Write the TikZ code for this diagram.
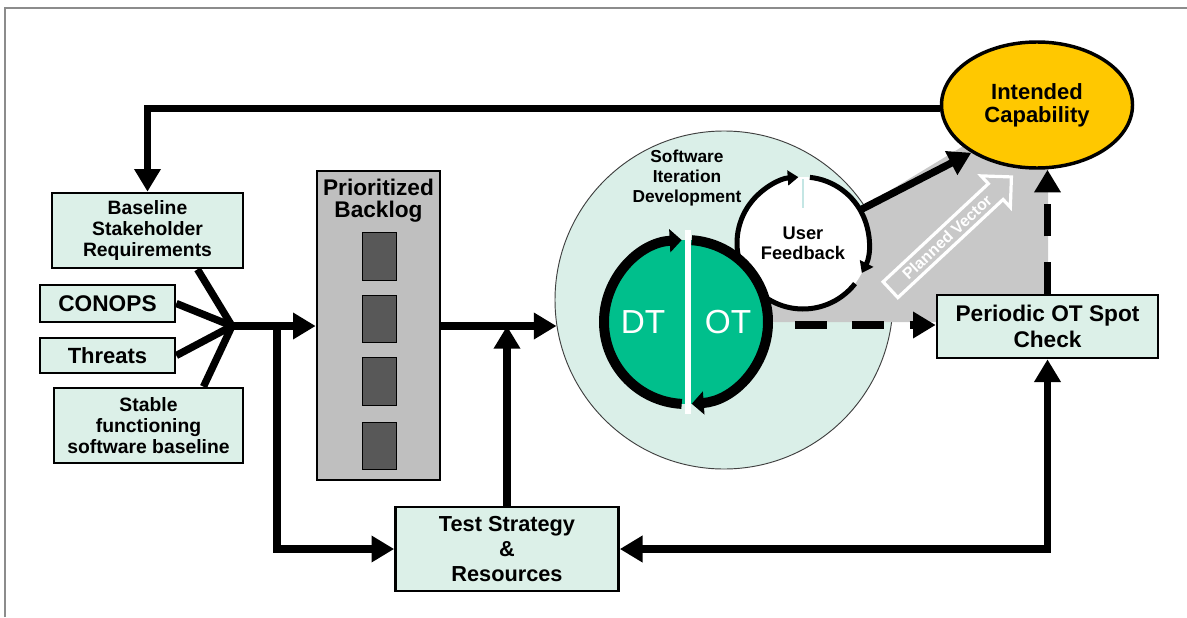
\documentclass[tikz,border=0pt]{standalone}
\usepackage{fontspec}
\setmainfont{Liberation Sans}
\usetikzlibrary{arrows.meta,shapes.geometric,shapes.arrows,calc}
\definecolor{boxfill}{HTML}{DCF0E8}
\definecolor{bigc}{HTML}{DAEFE8}
\definecolor{otgreen}{HTML}{00BF8C}
\definecolor{capyellow}{HTML}{FFC800}
\definecolor{blgray}{HTML}{BFBFBF}
\definecolor{darkrect}{HTML}{585858}
\definecolor{polyg}{HTML}{C8C8C8}
\definecolor{framegray}{HTML}{8C8C8C}
\definecolor{faint}{HTML}{C4E6E4}
\newcommand{\fs}[2]{\fontsize{#1}{#2}\selectfont}
\tikzset{
  greenbox/.style={draw=black, line width=2pt, fill=boxfill, align=center, inner sep=0pt, font=\bfseries\fs{14.5}{16}},
  conn/.style={line width=5.5pt},
  arr/.style={conn, -{Triangle[length=17pt,width=19pt]}},
  arrboth/.style={conn, {Triangle[length=17pt,width=19pt]}-{Triangle[length=17pt,width=19pt]}},
  dashconn/.style={line width=5.5pt, dash pattern=on 24pt off 19pt, -{Triangle[length=17pt,width=19pt]}},
  ring/.style={line width=7.5pt},
  ufring/.style={line width=3.75pt},
}
\begin{document}
\begin{tikzpicture}[x=0.75pt,y=-0.75pt]
\useasboundingbox (0,0) rectangle (1187,617);
\draw[framegray, line width=0.9pt] (5,617) -- (5,8) -- (1187,8);

% big circle
\node[circle, fill=bigc, draw=black!75, line width=0.7pt, minimum size=253.5pt, inner sep=0pt] (sid) at (724,300) {};
% gray area
\fill[polyg] (770,322) -- (770,300) -- (860,272) -- (866,205) -- (965,145) -- (1048,166) -- (1048,296) -- (937,296) -- (937,322) -- cycle;

\node[single arrow, draw=white, line width=2.4pt, fill=polyg, rotate=43, minimum height=124pt, single arrow head extend=8pt, inner sep=2.5pt, font=\bfseries\fs{12}{12}, text=white] (pv) at (947,237) {Planned Vector};

\node[font=\bfseries\fs{13}{15}, align=center] (sidlbl) at (687,178) {Software\\Iteration\\Development};

% user feedback
\node[circle, fill=white, minimum size=99pt, inner sep=0pt] (uf) at (803,243) {};
\draw[faint, line width=0.9pt] (803,179) -- (803,208);
\draw[ufring, -{Triangle[length=8pt,width=11pt]}] ($(uf.center)+(160:66)$) arc[start angle=160, end angle=266, radius=66];
\draw[ufring, -{Triangle[length=8pt,width=11pt]}] ($(uf.center)+(276:66)$) arc[start angle=276, end angle=387, radius=66];
\draw[ufring] ($(uf.center)+(38:66)$) arc[start angle=38, end angle=150, radius=66];
\node[font=\bfseries\fs{13.7}{15}, align=center] (uftext) at (803,243) {User\\Feedback};

% DT / OT
\node[circle, fill=otgreen, minimum size=123pt, inner sep=0pt] (dtot) at (686,322) {};
\draw[white, line width=5pt] ($(dtot.north)+(2,-10)$) -- ($(dtot.south)+(2,10)$);
\draw[ring, -{Triangle[length=9pt,width=17pt]}] ($(dtot.center)+(93:82)$) arc[start angle=93, end angle=267, radius=82];
\draw[ring, -{Triangle[length=9pt,width=17pt]}] ($(dtot.center)+(274:82)$) arc[start angle=274, end angle=446, radius=82];
\node[text=white, font=\fs{25}{25}] (dt) at (643,322) {DT};
\node[text=white, font=\fs{25}{25}] (ot) at (728,322) {OT};

% intended capability
\node[ellipse, fill=capyellow, draw=black, line width=2.6pt, minimum width=143.25pt, minimum height=94.5pt, inner sep=0pt, align=center, font=\bfseries\fs{16.5}{17.5}] (ic) at (1037,105) {Intended\\Capability};

% periodic
\node[greenbox, minimum width=165.75pt, minimum height=47.25pt, font=\bfseries\fs{17}{19}] (pc) at (1047.5,326.5) {Periodic OT Spot\\Check};

% left boxes
\node[greenbox, minimum width=143.25pt, minimum height=56.25pt] (bsr) at (147.5,230.5) {Baseline\\Stakeholder\\Requirements};
\node[greenbox, minimum width=101.25pt, minimum height=27.75pt, font=\bfseries\fs{17}{17}] (conops) at (107.5,303.5) {CONOPS};
\node[greenbox, minimum width=101.25pt, minimum height=26.25pt, font=\bfseries\fs{16.5}{16.5}] (threats) at (107.5,355.5) {Threats};
\node[greenbox, minimum width=141.75pt, minimum height=56.25pt] (stable) at (148.5,425.5) {Stable\\functioning\\software baseline};

% backlog
\node[draw=black, line width=2pt, fill=blgray, minimum width=92.25pt, minimum height=231.75pt, inner sep=0pt] (bl) at (378.5,325.5) {};
\node[font=\bfseries\fs{17}{16.5}, align=center] (bltitle) at (378.5,201) {Prioritized\\Backlog};
\foreach \i/\yy in {1/256.5, 2/319, 3/381.5, 4/446} {
  \node[draw=black, line width=0.6pt, fill=darkrect, minimum width=25.5pt, minimum height=35.5pt, inner sep=0pt] (item\i) at (379.5,\yy) {};
}

% test strategy
\node[greenbox, minimum width=167.25pt, minimum height=63pt, font=\bfseries\fs{16.3}{19}] (ts) at (507,549) {Test Strategy\\\&\\Resources};

% connectors
\coordinate (J) at (232,326);
\coordinate (B) at (277,326);
\draw[conn] ($(bsr.south)+(50,0)$) -- (J);
\draw[conn] (conops.east) -- (J);
\draw[conn] (threats.east) -- (J);
\draw[conn] ($(stable.north)+(55,0)$) -- (J);
\draw[arr] (J) -- (bl.west |- J);
\draw[arr] (B) |- (ts.west);
\draw[arr] (bl.east |- J) -- ($(sid.west |- J)+(2,0)$);
\draw[arr] (ts.north) -- (ts.north |- J);
\draw[arrboth] (ts.east) -| (pc.south);
\draw[arr] (ic.182) -| (bsr.north);
\draw[arr] (uf.30) -- (ic.216);
\draw[dashconn] (795,325) -- (pc.west |- 0,325);
\draw[dashconn] (pc.north) -- (pc.north |- ic.south);
\end{tikzpicture}
\end{document}
